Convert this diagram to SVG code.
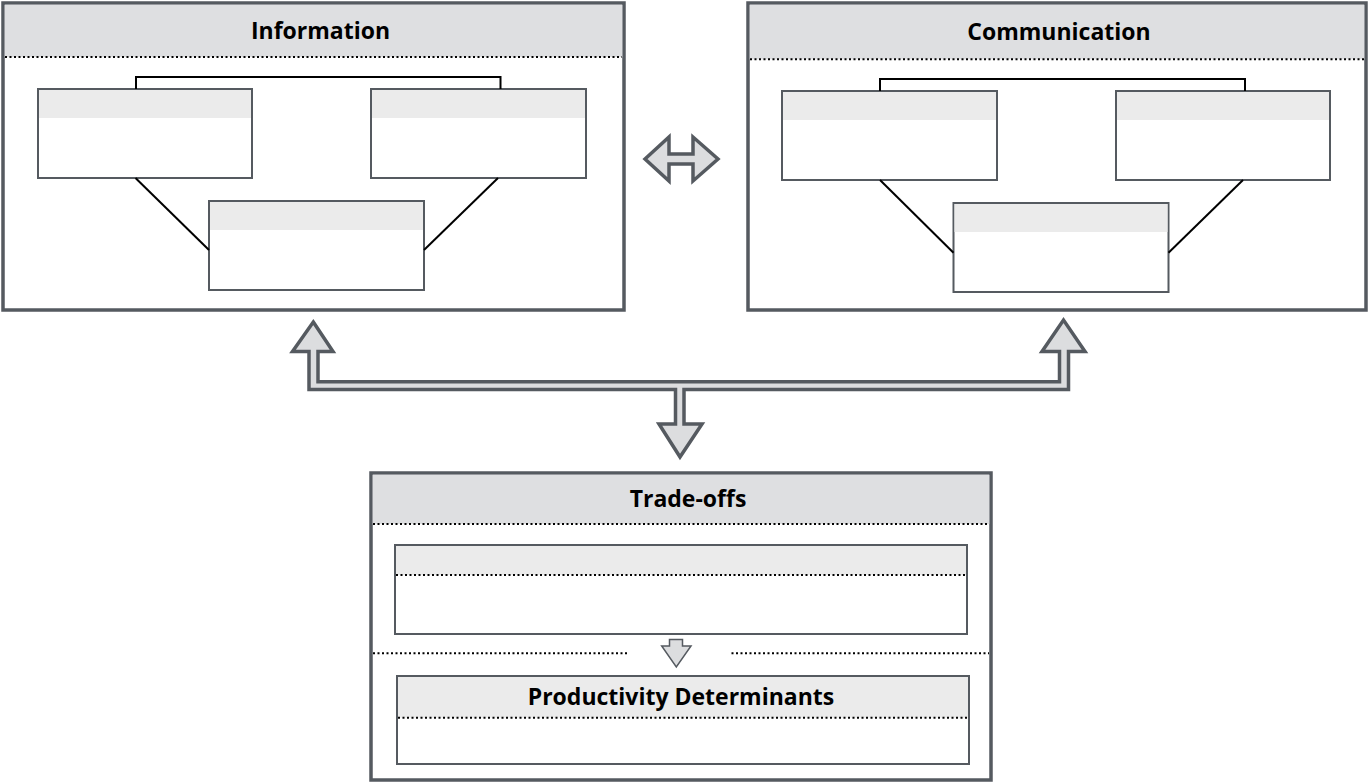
<svg xmlns="http://www.w3.org/2000/svg" width="1372" height="783" viewBox="0 0 1372 783">
<style>
.outer{fill:#fff;stroke:#555a60;stroke-width:3.5}
.hdr{fill:#dedfe1}
.inner{fill:#fff;stroke:#555a60;stroke-width:2}
.ihdr{fill:#ebebeb}
.dot{stroke:#000;stroke-width:2;stroke-dasharray:2 2.5;fill:none}
.link{stroke:#000;stroke-width:2;fill:none}
.title{font-family:"Open Sans","Liberation Sans",sans-serif;font-weight:700;font-size:23px;fill:#000;text-anchor:middle}
.big{fill:#dcdddf;stroke:#555a60;stroke-width:3.5;stroke-linejoin:miter}
.small{fill:#dcdddf;stroke:#555a60;stroke-width:1.5}
</style>
<rect width="1372" height="783" fill="#fff"/>

<g id="information">
  <rect class="outer" x="3" y="3" width="621" height="307"/>
  <rect class="hdr" x="4.75" y="4.75" width="617.5" height="52.25"/>
  <line class="dot" x1="5" y1="57" x2="622" y2="57"/>
  <text class="title" x="320.5" y="38.5">Information</text>
  <g id="info-a"><rect class="inner" x="38" y="89" width="214" height="89"/><rect class="ihdr" x="39" y="90" width="212" height="28"/></g>
  <g id="info-b"><rect class="inner" x="371" y="89" width="215" height="89"/><rect class="ihdr" x="372" y="90" width="213" height="28"/></g>
  <g id="info-c"><rect class="inner" x="209" y="201" width="215" height="89"/><rect class="ihdr" x="210" y="202" width="213" height="28"/></g>
  <g id="info-links">
    <path class="link" d="M136,89 V77 H500.5 V89"/>
    <line class="link" x1="135.5" y1="178" x2="209" y2="250"/>
    <line class="link" x1="424" y1="250" x2="498" y2="178"/>
  </g>
</g>

<g id="communication">
  <rect class="outer" x="748" y="3" width="618" height="307"/>
  <rect class="hdr" x="749.75" y="4.75" width="614.5" height="54.5"/>
  <line class="dot" x1="750" y1="59.3" x2="1364" y2="59.3"/>
  <text class="title" x="1059" y="39.5">Communication</text>
  <g id="comm-a"><rect class="inner" x="782" y="91" width="215" height="89"/><rect class="ihdr" x="783" y="92" width="213" height="28"/></g>
  <g id="comm-b"><rect class="inner" x="1116" y="91" width="214" height="89"/><rect class="ihdr" x="1117" y="92" width="212" height="28"/></g>
  <g id="comm-c"><rect class="inner" x="953.5" y="203" width="215" height="89"/><rect class="ihdr" x="954.5" y="204" width="213" height="28"/></g>
  <g id="comm-links">
    <path class="link" d="M880,91 V79 H1245 V91"/>
    <line class="link" x1="880" y1="180" x2="953.5" y2="252.7"/>
    <line class="link" x1="1168.5" y1="252.7" x2="1243" y2="180"/>
  </g>
</g>

<g id="tradeoffs">
  <rect class="outer" x="371" y="473" width="620" height="307"/>
  <rect class="hdr" x="372.75" y="474.75" width="616.5" height="49.25"/>
  <line class="dot" x1="373" y1="524" x2="989" y2="524"/>
  <text class="title" x="688" y="507">Trade-offs</text>
  <g id="trade-box"><rect class="inner" x="395" y="545" width="572" height="89"/><rect class="ihdr" x="396" y="546" width="570" height="29"/><line class="dot" x1="396" y1="575" x2="966" y2="575"/></g>
  <line class="dot" x1="373" y1="653.3" x2="629.5" y2="653.3"/>
  <line class="dot" x1="731.5" y1="653.3" x2="989" y2="653.3"/>
  <polygon class="small" points="669.5,639.5 682.5,639.5 682.5,646 691,646 676.3,667 661.7,646 669.5,646"/>
  <g id="productivity"><rect class="inner" x="397" y="676" width="572" height="88"/><rect class="ihdr" x="398" y="677" width="570" height="40.7"/><line class="dot" x1="398" y1="717.7" x2="968" y2="717.7"/>
  <text class="title" x="681" y="705">Productivity Determinants</text></g>
</g>

<g id="connectors">
  <path class="big" d="M645,159 L669,137 L669,154 L693,154 L693,137 L718,159 L693,181 L693,164 L669,164 L669,181 Z"/>
  <path class="big" d="M313.3,322 L333,351.5 L318,351.5 L318,381.8 L1059.5,381.8 L1059.5,351.5 L1042,351.5 L1063.5,320 L1085,351.5 L1068.5,351.5 L1068.5,389.5 L684,389.5 L684,424 L702,424 L680,457 L659,424 L675.5,424 L675.5,389.5 L309,389.5 L309,351.5 L292.5,351.5 Z"/>
</g>
</svg>
